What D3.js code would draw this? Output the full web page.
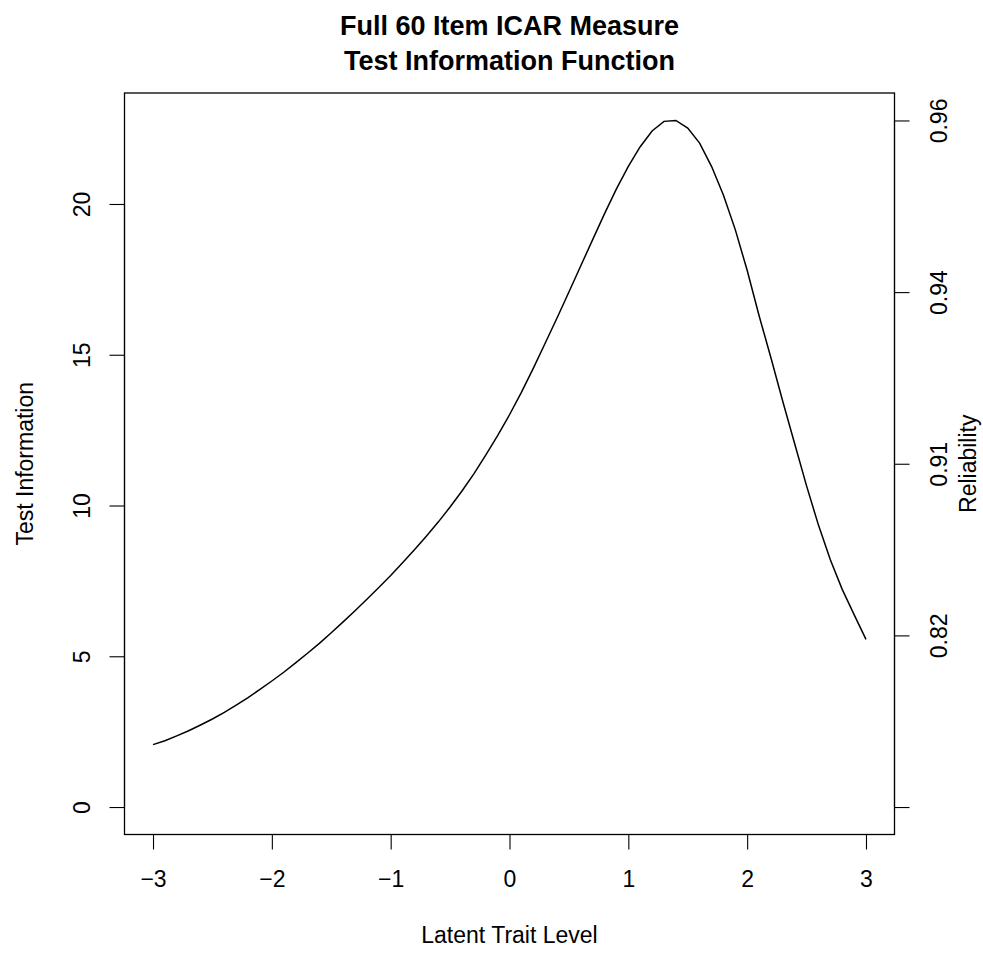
<!DOCTYPE html>
<html>
<head>
<meta charset="utf-8">
<script src="https://cdn.jsdelivr.net/npm/d3@7"></script>
<style>
  body { margin: 0; background: #fff; }
  text { font-family: "Liberation Sans", Arial, sans-serif; fill: #000; }
</style>
</head>
<body>
<div class="container"></div>
<script>
// theta grid, step 0.1 from -3 to 3
var theta = [-3.0,-2.9,-2.8,-2.7,-2.6,-2.5,-2.4,-2.3,-2.2,-2.1,
             -2.0,-1.9,-1.8,-1.7,-1.6,-1.5,-1.4,-1.3,-1.2,-1.1,
             -1.0,-0.9,-0.8,-0.7,-0.6,-0.5,-0.4,-0.3,-0.2,-0.1,
              0.0, 0.1, 0.2, 0.3, 0.4, 0.5, 0.6, 0.7, 0.8, 0.9,
              1.0, 1.1, 1.2, 1.3, 1.4, 1.5, 1.6, 1.7, 1.8, 1.9,
              2.0, 2.1, 2.2, 2.3, 2.4, 2.5, 2.6, 2.7, 2.8, 2.9, 3.0];
// test information
var info = [2.07, 2.20, 2.36, 2.53, 2.72, 2.92, 3.14, 3.38, 3.63, 3.90,
            4.18, 4.47, 4.78, 5.10, 5.43, 5.78, 6.14, 6.51, 6.89, 7.28,
            7.68, 8.10, 8.53, 8.98, 9.45, 9.95, 10.48, 11.05, 11.67, 12.32,
            13.01, 13.75, 14.55, 15.38, 16.22, 17.08, 17.95, 18.82, 19.68, 20.50,
            21.25, 21.90, 22.42, 22.74, 22.77, 22.52, 22.02, 21.25, 20.30, 19.15,
            17.80, 16.30, 14.90, 13.45, 12.05, 10.65, 9.35, 8.20, 7.22, 6.38, 5.56];

var xTicks = [-3, -2, -1, 0, 1, 2, 3];
var yTicks = [0, 5, 10, 15, 20];
// right axis: ticks at 0, 1/4, 1/2, 3/4 and all of the peak information
var relTickFrac = [0, 0.25, 0.5, 0.75, 1];
var relLabels = ["", "0.82", "0.91", "0.94", "0.96"];

var title1 = "Full 60 Item ICAR Measure";
var title2 = "Test Information Function";

var w = 983, h = 953;
var mLeft = 124.5, mRight = 894.5, mTop = 93, mBottom = 834.5;

var svg = d3.select(".container").append("svg")
    .attr("width", w).attr("height", h);

var maxInfo = d3.max(info);

var x = d3.scaleLinear().domain([-3.24, 3.24]).range([mLeft, mRight]);
var y = d3.scaleLinear().domain([-0.04 * maxInfo, 1.04 * maxInfo]).range([mBottom, mTop]);

var tick = 15;
var fs = 23;

// bottom axis
var xa = svg.append("g").attr("transform", "translate(0," + mBottom + ")")
    .call(d3.axisBottom(x).tickValues(xTicks).tickSize(tick)
        .tickFormat(function(d) { return d < 0 ? "\u2212" + Math.abs(d) : d; }));
xa.select(".domain").attr("d", "M" + x(-3) + ",0H" + x(3));
xa.selectAll(".tick text").attr("y", 52).attr("dy", 0);

// left axis
var ya = svg.append("g").attr("transform", "translate(" + mLeft + ",0)")
    .call(d3.axisLeft(y).tickValues(yTicks).tickSize(tick).tickFormat(d3.format("d")));
ya.select(".domain").attr("d", "M0," + y(0) + "V" + y(20));
ya.selectAll(".tick text")
    .attr("x", 0).attr("dy", 0)
    .attr("transform", "translate(-34.5,0) rotate(-90)")
    .attr("text-anchor", "middle");

// right axis
var relTicks = relTickFrac.map(function(f) { return f * maxInfo; });
var ra = svg.append("g").attr("transform", "translate(" + mRight + ",0)")
    .call(d3.axisRight(y).tickValues(relTicks).tickSize(tick)
        .tickFormat(function(d, i) { return relLabels[i]; }));
ra.select(".domain").attr("d", "M0," + y(relTicks[0]) + "V" + y(relTicks[4]));
ra.selectAll(".tick text")
    .attr("x", 0).attr("dy", 0)
    .attr("transform", "translate(52.5,0) rotate(-90)")
    .attr("text-anchor", "middle");

svg.selectAll(".tick text").attr("font-size", fs).attr("font-family", "Liberation Sans, Arial, sans-serif");
svg.selectAll(".domain, .tick line").attr("stroke", "#000").attr("stroke-width", 1.1);

// box
svg.append("rect")
    .attr("x", mLeft).attr("y", mTop)
    .attr("width", mRight - mLeft).attr("height", mBottom - mTop)
    .attr("fill", "none").attr("stroke", "#000").attr("stroke-width", 1.3);

// curve
var line = d3.line()
    .x(function(d, i) { return x(theta[i]); })
    .y(function(d) { return y(d); });

svg.append("path")
    .datum(info)
    .attr("d", line)
    .attr("fill", "none")
    .attr("stroke", "#000")
    .attr("stroke-width", 1.5);

// titles
svg.append("text").text(title1)
    .attr("x", (mLeft + mRight) / 2).attr("y", 35)
    .attr("text-anchor", "middle").attr("font-size", 27).attr("font-weight", "bold");
svg.append("text").text(title2)
    .attr("x", (mLeft + mRight) / 2).attr("y", 70)
    .attr("text-anchor", "middle").attr("font-size", 27).attr("font-weight", "bold");

svg.append("text").text("Latent Trait Level")
    .attr("x", (mLeft + mRight) / 2).attr("y", 943)
    .attr("text-anchor", "middle").attr("font-size", fs);

svg.append("text").text("Test Information")
    .attr("transform", "translate(33," + (mTop + mBottom) / 2 + ") rotate(-90)")
    .attr("text-anchor", "middle").attr("font-size", fs);

svg.append("text").text("Reliability")
    .attr("transform", "translate(976," + (mTop + mBottom) / 2 + ") rotate(-90)")
    .attr("text-anchor", "middle").attr("font-size", fs);
</script>
</body>
</html>
